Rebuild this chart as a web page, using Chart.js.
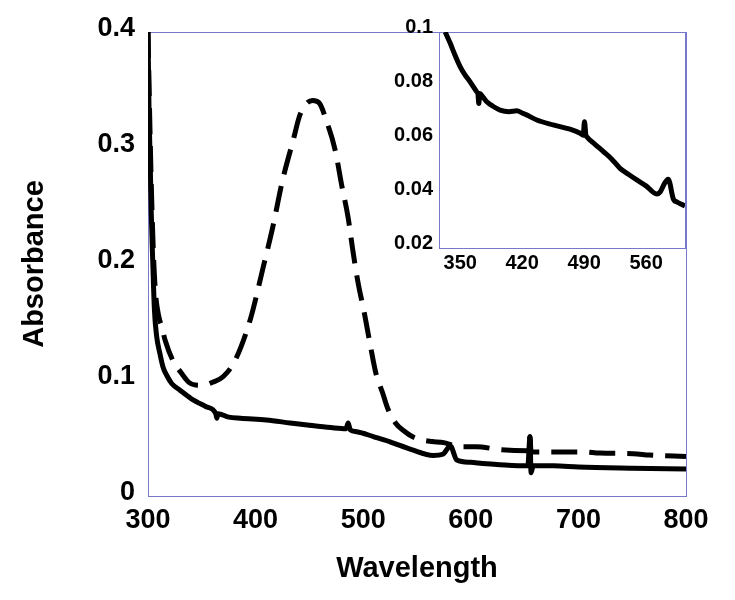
<!DOCTYPE html>
<html>
<head>
<meta charset="utf-8">
<script src="https://cdn.jsdelivr.net/npm/chart.js@4"></script>
<style>
  body { margin: 0; background: #fff; }
  #wrap { position: relative; width: 735px; height: 600px; }
  #mainChart { position: absolute; left: 0; top: 0; }
  #insetChart { position: absolute; left: 370px; top: 0; }
</style>
</head>
<body>
<div id="wrap">
  <canvas id="mainChart" width="735" height="600"></canvas>
  <canvas id="insetChart" width="365" height="300"></canvas>
</div>
<script>
// main spectrum, solid trace
const solidWl = [300, 301, 302, 303, 304.5, 306, 308, 311, 314, 318, 322, 330, 340, 354, 363, 364, 365, 375, 386, 410, 432, 450, 470, 484, 486, 488, 494, 510, 525, 545, 565, 574, 581, 587, 600, 611, 627, 653, 655, 656, 658, 677, 700, 750, 800];
const solidAbs = [0.4, 0.33, 0.29, 0.245, 0.2, 0.16, 0.138, 0.123, 0.111, 0.103, 0.097, 0.091, 0.084, 0.077, 0.071, 0.067, 0.071, 0.068, 0.067, 0.0655, 0.063, 0.061, 0.059, 0.058, 0.063, 0.057, 0.0554, 0.051, 0.0467, 0.04, 0.035, 0.036, 0.043, 0.031, 0.029, 0.028, 0.027, 0.026, 0.051, 0.02, 0.026, 0.026, 0.025, 0.024, 0.0233];

// main spectrum, dashed trace
const dashedWl = [300, 301.5, 303, 305, 307, 310, 313, 316, 323, 331, 338, 344, 352, 360, 370, 381, 395, 407, 416, 425, 435, 441, 447, 453, 459, 466, 474, 480, 486, 490, 495, 501, 507, 512, 518, 523, 530, 538, 546, 556, 564, 575, 590, 605, 627, 653, 655, 656, 676, 704, 720, 751, 766, 800];
const dashedAbs = [0.4, 0.33, 0.27, 0.21, 0.175, 0.155, 0.145, 0.134, 0.117, 0.106, 0.098, 0.0957, 0.0955, 0.098, 0.103, 0.117, 0.152, 0.197, 0.232, 0.272, 0.307, 0.328, 0.338, 0.341, 0.339, 0.323, 0.298, 0.268, 0.24, 0.214, 0.185, 0.158, 0.128, 0.105, 0.089, 0.075, 0.063, 0.056, 0.051, 0.048, 0.047, 0.046, 0.0425, 0.0425, 0.04, 0.039, 0.051, 0.038, 0.038, 0.038, 0.037, 0.0365, 0.0353, 0.034];

// inset (zoom of solid trace)
const insetWl = [333, 338.7, 344, 350, 355, 361, 368.5, 370, 371, 372, 376, 380, 387, 395, 405, 414, 420, 425, 436.6, 455, 474, 485.5, 489, 490.4, 492, 493, 502, 511.8, 521, 530.6, 540, 549.5, 560, 572, 576, 581, 585, 591, 594.6, 604];
const insetAbs = [0.1, 0.0958, 0.0915, 0.0871, 0.0843, 0.0816, 0.0779, 0.077, 0.0735, 0.0772, 0.0758, 0.0742, 0.0725, 0.0711, 0.0705, 0.0708, 0.07, 0.0693, 0.0674, 0.0656, 0.064, 0.0625, 0.0618, 0.0668, 0.0618, 0.0612, 0.0585, 0.0557, 0.053, 0.0495, 0.0473, 0.0452, 0.043, 0.04, 0.0408, 0.044, 0.0455, 0.038, 0.0371, 0.0356];

const mainXTicks = [300, 400, 500, 600, 700, 800];
const mainYTicks = [0, 0.1, 0.2, 0.3, 0.4];
const insetXTicks = [350, 420, 490, 560];
const insetYTicks = [0.02, 0.04, 0.06, 0.08, 0.1];

const FONT = "'Liberation Sans', Arial, sans-serif";
const frameColor = '#7777cc';

function pts(xs, ys) {
  return xs.map((x, i) => ({ x: x, y: ys[i] }));
}

function fmt(v) {
  return String(parseFloat(v.toFixed(3)));
}

const framePlugin = {
  id: 'frame',
  beforeDatasetsDraw(chart, args, opts) {
    const a = chart.chartArea;
    const c = chart.ctx;
    c.save();
    if (opts.fill) {
      c.fillStyle = opts.fill;
      c.fillRect(a.left, a.top, a.right - a.left, a.bottom - a.top);
    }
    c.strokeStyle = frameColor;
    c.lineWidth = 1;
    c.strokeRect(a.left + 0.5, a.top + 0.5, a.right - a.left, a.bottom - a.top);
    c.restore();
  }
};

function lineSet(data, dashed) {
  return {
    data: data,
    borderColor: '#000',
    borderWidth: 5,
    borderDash: dashed ? [26, 12] : [],
    pointRadius: 0,
    cubicInterpolationMode: 'monotone',
    fill: false,
  };
}

new Chart(document.getElementById('mainChart'), {
  type: 'line',
  data: {
    datasets: [
      lineSet(pts(dashedWl, dashedAbs), true),
      lineSet(pts(solidWl, solidAbs), false),
    ]
  },
  options: {
    responsive: false,
    animation: false,
    devicePixelRatio: 1,
    layout: { padding: { left: 0, top: 32, right: 49, bottom: 0 } },
    plugins: {
      legend: { display: false },
      tooltip: { enabled: false },
      frame: {},
    },
    scales: {
      x: {
        type: 'linear',
        min: 300,
        max: 800,
        afterBuildTicks: (s) => { s.ticks = mainXTicks.map(v => ({ value: v })); },
        afterFit: (s) => { s.height = 104; },
        grid: { display: false, drawTicks: false },
        border: { display: false },
        ticks: { color: '#000', padding: 8, font: { family: FONT, size: 27, weight: 'bold' } },
        title: {
          display: true,
          text: 'Wavelength',
          color: '#000',
          padding: { top: 0, bottom: 14 },
          font: { family: FONT, size: 29, weight: 'bold' },
        },
      },
      y: {
        min: 0,
        max: 0.4,
        afterBuildTicks: (s) => { s.ticks = mainYTicks.map(v => ({ value: v })); },
        afterFit: (s) => { s.width = 148; },
        grid: { display: false, drawTicks: false },
        border: { display: false },
        ticks: { color: '#000', padding: 13, labelOffset: -3, callback: fmt, font: { family: FONT, size: 27, weight: 'bold' } },
        title: {
          display: true,
          text: 'Absorbance',
          color: '#000',
          padding: { top: 18, bottom: 0 },
          font: { family: FONT, size: 29, weight: 'bold' },
        },
      },
    },
  },
  plugins: [framePlugin],
});

new Chart(document.getElementById('insetChart'), {
  type: 'line',
  data: {
    datasets: [lineSet(pts(insetWl, insetAbs), false)]
  },
  options: {
    responsive: false,
    animation: false,
    devicePixelRatio: 1,
    layout: { padding: { left: 0, top: 32, right: 50, bottom: 0 } },
    plugins: {
      legend: { display: false },
      tooltip: { enabled: false },
      frame: { fill: '#fff' },
    },
    scales: {
      x: {
        type: 'linear',
        min: 326,
        max: 604,
        afterBuildTicks: (s) => { s.ticks = insetXTicks.map(v => ({ value: v })); },
        afterFit: (s) => { s.height = 52; },
        grid: { display: false, drawTicks: false },
        border: { display: false },
        ticks: { color: '#000', padding: 3, font: { family: FONT, size: 20, weight: 'bold' } },
      },
      y: {
        min: 0.02,
        max: 0.1,
        afterBuildTicks: (s) => { s.ticks = insetYTicks.map(v => ({ value: v })); },
        afterFit: (s) => { s.width = 69; },
        grid: { display: false, drawTicks: false },
        border: { display: false },
        ticks: { color: '#000', padding: 6, labelOffset: -5, callback: fmt, font: { family: FONT, size: 20, weight: 'bold' } },
      },
    },
  },
  plugins: [framePlugin],
});
</script>
</body>
</html>
